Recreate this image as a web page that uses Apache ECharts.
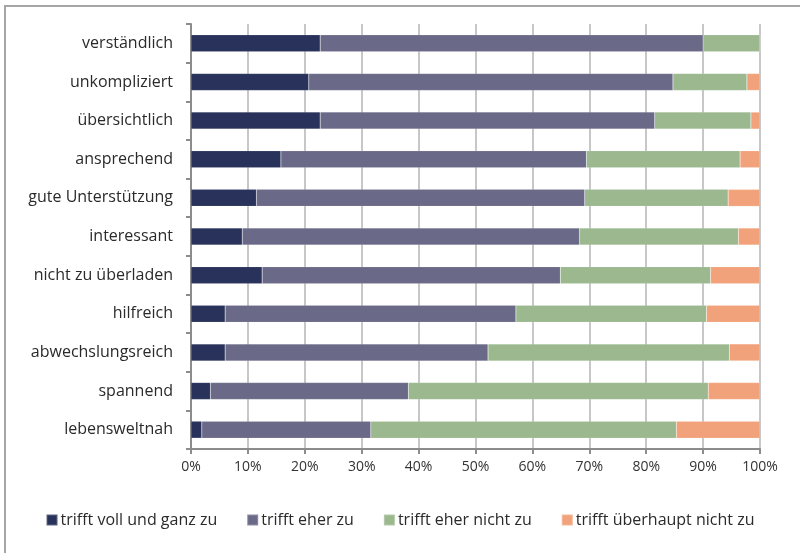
<!DOCTYPE html>
<html>
<head>
<meta charset="utf-8">
<script src="https://cdn.jsdelivr.net/npm/echarts@6/dist/echarts.min.js"></script>
<style>html,body{margin:0;padding:0;background:#fff}#c{width:800px;height:553px}</style>
</head>
<body>
<div id="c"></div>
<script>
const categories = ["verständlich","unkompliziert","übersichtlich","ansprechend","gute Unterstützung","interessant","nicht zu überladen","hilfreich","abwechslungsreich","spannend","lebensweltnah"];
const seriesNames = ["trifft voll und ganz zu","trifft eher zu","trifft eher nicht zu","trifft überhaupt nicht zu"];
const vollUndGanz = [22.7, 20.7, 22.7, 15.8, 11.5, 9.0, 12.5, 6.0, 6.0, 3.4, 1.9];
const eherZu      = [67.3, 64.0, 58.8, 53.7, 57.7, 59.3, 52.4, 51.1, 46.2, 34.8, 29.7];
const eherNicht   = [10.0, 13.0, 16.9, 27.0, 25.2, 27.9, 26.4, 33.5, 42.4, 52.7, 53.7];
const ueberhauptNicht = [0.0, 2.3, 1.6, 3.5, 5.6, 3.8, 8.7, 9.4, 5.4, 9.1, 14.7];
const xTicks = [0,10,20,30,40,50,60,70,80,90,100];
const colors = ["#28325a","#6a6a88","#9bb88f","#f2a27a"];

const FONT = "'Open Sans', sans-serif";
const chart = echarts.init(document.getElementById('c'), null, {renderer:'canvas'});
const dataSets = [vollUndGanz, eherZu, eherNicht, ueberhauptNicht];
chart.setOption({
  animation:false,
  color: colors,
  textStyle:{fontFamily:FONT},
  graphic:[{type:'rect', shape:{x:5,y:6,width:900,height:900}, style:{fill:'none', stroke:'#a6a6a6', lineWidth:2}, silent:true}],
  grid:{left:191, right:40, top:24, bottom:104, containLabel:false},
  legend:{
    bottom:20, left:'center',
    itemWidth:11, itemHeight:11, itemGap:29,
    icon:'rect',
    textStyle:{fontFamily:FONT, fontSize:16, color:'#2a2a2a', padding:[0,0,0,-2]},
    data: seriesNames
  },
  xAxis:{
    type:'value', min:0, max:100, interval:10,
    axisLine:{show:true, lineStyle:{color:'#8c8c8c', width:2}},
    axisTick:{show:true, length:5, lineStyle:{color:'#8c8c8c', width:2}},
    axisLabel:{formatter: v => xTicks.includes(v) ? v + '%' : '', color:'#333', fontSize:14, margin:11, fontFamily:FONT},
    splitLine:{show:true, lineStyle:{color:'#b4b4b4', width:1.5}}
  },
  yAxis:{
    type:'category', inverse:true, data:categories,
    axisLine:{show:true, lineStyle:{color:'#8c8c8c', width:2}},
    axisTick:{show:true, length:5, lineStyle:{color:'#8c8c8c', width:2}},
    axisLabel:{color:'#2a2a2a', fontSize:16, margin:18, fontFamily:FONT}
  },
  series: seriesNames.map((n,i)=>({
    name:n, type:'bar', stack:'total', barWidth:17,
    data:dataSets[i],
    itemStyle:{color:colors[i], borderColor:'rgba(255,255,255,0.25)', borderWidth:0.5}
  }))
});
</script>
</body>
</html>
